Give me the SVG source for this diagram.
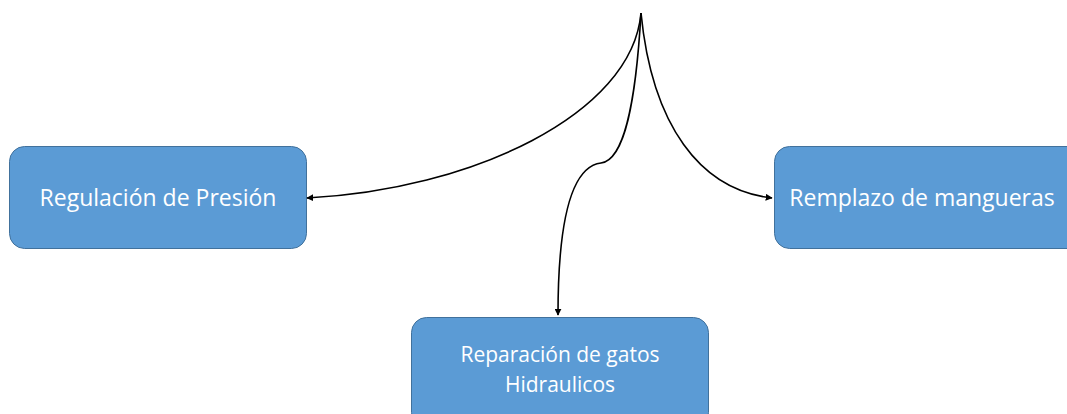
<svg xmlns="http://www.w3.org/2000/svg" width="1067" height="414" viewBox="0 0 1067 414">
<style>
.box{fill:#5B9BD5;stroke:#41719C;stroke-width:1}
.lbl{fill:#fff;font-family:"Open Sans","Liberation Sans",sans-serif;font-size:23px;text-anchor:middle}
.sm{font-size:21px}
.con{fill:none;stroke:#000;stroke-width:1.6}
</style>
<defs>
<marker id="ah" viewBox="0 0 10 10" refX="9" refY="5" markerWidth="7" markerHeight="7" orient="auto" markerUnits="userSpaceOnUse">
<path d="M0,0 L10,5 L0,10 z" fill="#000"/>
</marker>
</defs>
<rect width="1067" height="414" fill="#fff"/>
<g id="n1"><rect class="box" x="9.5" y="146.5" width="297" height="102" rx="15"/><text class="lbl" x="158" y="206">Regulación de Presión</text></g>
<g id="n2"><rect class="box" x="774.5" y="146.5" width="310" height="102" rx="15"/><text class="lbl" x="922" y="206">Remplazo de mangueras</text></g>
<g id="n3"><rect class="box" x="411.5" y="317.5" width="297" height="110" rx="15"/><text class="lbl sm" x="560" y="362">Reparación de gatos</text><text class="lbl sm" x="560" y="392">Hidraulicos</text></g>
<g id="connectors">
<path class="con" d="M641,13 C632,115 470,190 307,198" marker-end="url(#ah)"/>
<path class="con" d="M641,13 C652,125 700,190 772,198" marker-end="url(#ah)"/>
<path class="con" d="M641,13 C636,100 625,160 601,163 C576,166 558,205 558,315" marker-end="url(#ah)"/>
</g>
</svg>
